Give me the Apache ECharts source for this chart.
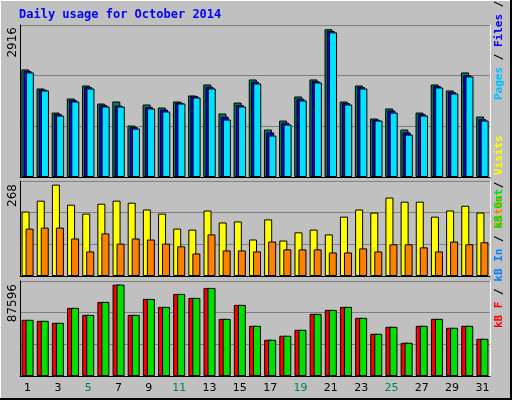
<!DOCTYPE html><html><head><meta charset="utf-8"><script src="https://cdn.jsdelivr.net/npm/echarts@6/dist/echarts.min.js"></script>
<style>body{margin:0;background:#c0c0c0}#c{width:512px;height:400px}</style></head><body><div id="c"></div><script>
var days=[];for(var i=1;i<=31;i++)days.push(String(i));
var weekend=['4','5','11','12','18','19','25','26'];
var hits=[2123,1747,1272,1549,1806,1450,1490,1015,1431,1371,1490,1609,1826,1253,1470,1925,936,1114,1589,1925,2916,1490,1806,1154,1352,936,1272,1826,1708,2064,1193];
var files=[2090,1725,1240,1520,1775,1420,1410,985,1380,1330,1470,1595,1780,1190,1420,1880,880,1070,1545,1890,2880,1460,1775,1130,1310,880,1240,1795,1675,2010,1140];
var pages=[2064,1708,1213,1490,1747,1391,1391,956,1352,1292,1450,1569,1747,1134,1391,1846,818,1035,1510,1866,2855,1431,1747,1114,1272,837,1213,1767,1648,1985,1114];
var visits=[189,221,268,209,183,212,221,215,195,183,139,136,192,157,160,107,166,104,128,136,122,174,195,186,230,218,218,174,192,206,186];
var sites=[139,142,142,110,72,125,95,110,107,95,87,66,122,75,75,72,101,78,78,78,69,69,81,72,93,93,84,72,101,93,99];
var kbF=[53830,52874,50964,65297,58608,71030,87596,58608,73897,66253,78675,74853,84408,54786,68164,48097,34719,38541,44275,59564,63386,66253,55742,40452,47142,31852,48097,54786,46186,48097,35675];
var kbOut=kbF.slice();
var maxLabels=['2916','268','87596'];
var ch=echarts.init(document.getElementById('c'));
var grids=[{left:20,right:22,top:25,height:152},{left:20,right:22,top:181,height:95},{left:20,right:22,top:281,height:95}];
var ymax=[3000,278.6,91065];
var xAxes=[],yAxes=[];
grids.forEach(function(g,i){
 xAxes.push({type:'category',gridIndex:i,data:days,axisTick:{show:false},axisLine:{lineStyle:{color:'#fff'}},
  axisLabel:{show:i==2,margin:7,fontFamily:'DejaVu Sans',fontSize:11,color:function(v){return weekend.indexOf(v)>=0?'#00805c':'#000';}}});
 xAxes.push({type:'category',gridIndex:i,data:days,position:'top',axisTick:{show:false},axisLabel:{show:false},axisLine:{lineStyle:{color:'#000'}}});
 yAxes.push({type:'value',gridIndex:i,min:0,max:ymax[i],interval:ymax[i]/3,axisLabel:{show:false},axisLine:{show:true,lineStyle:{color:'#000'}},axisTick:{show:false},splitLine:{lineStyle:{color:'#808080',width:1}}});
 yAxes.push({type:'value',gridIndex:i,position:'right',min:0,max:ymax[i],axisLabel:{show:false},axisLine:{show:true,lineStyle:{color:'#fff'}},axisTick:{show:false},splitLine:{show:false}});
});
function bar(data,color,xi,yi,w,gap){return {type:'bar',data:data,xAxisIndex:xi,yAxisIndex:yi,barWidth:w,barGap:gap,itemStyle:{color:color,borderColor:'#000',borderWidth:1},animation:false,silent:true};}
var series=[bar(hits,'#00805c',0,0,8,'-72%'),bar(files,'#0000ff',0,0,8,'-72%'),bar(pages,'#00e0ff',0,0,8,'-72%'),
 bar(visits,'#ffff00',2,2,8,'-50%'),bar(sites,'#ff8000',2,2,8,'-50%'),
 bar(kbF,'#ff0000',4,4,8,'-50%'),bar(kbOut,'#00e000',4,4,8,'-50%')];
var lbl=function(t,y){return {type:'text',x:13,y:y,rotation:Math.PI/2,style:{text:t,font:'12px "DejaVu Sans"',fill:'#000',align:'right',verticalAlign:'middle'}};};
function side(y,rich,text){return {type:'text',x:499,y:y,rotation:Math.PI/2,style:{text:text,rich:rich,font:'bold 11px "DejaVu Sans Mono"',align:'left',verticalAlign:'middle'}};}
var rs={a:{fill:'#00c0ff',font:'bold 11px "DejaVu Sans Mono"'},b:{fill:'#0000ff',font:'bold 11px "DejaVu Sans Mono"'},c:{fill:'#00805c',font:'bold 11px "DejaVu Sans Mono"'},k:{fill:'#000',font:'bold 11px "DejaVu Sans Mono"'},
 o:{fill:'#ff8000',font:'bold 11px "DejaVu Sans Mono"'},y:{fill:'#ffff00',font:'bold 11px "DejaVu Sans Mono"'},r:{fill:'#ff0000',font:'bold 11px "DejaVu Sans Mono"'},bl:{fill:'#0080ff',font:'bold 11px "DejaVu Sans Mono"'},g:{fill:'#00e000',font:'bold 11px "DejaVu Sans Mono"'}};
ch.setOption({backgroundColor:'#c0c0c0',grid:grids,xAxis:xAxes,yAxis:yAxes,series:series,
 graphic:[
  {type:'rect',shape:{x:0.5,y:0.5,width:510,height:398},style:{fill:'none',stroke:'#fff',lineWidth:1}},
  {type:'polyline',shape:{points:[[511,0],[511,399],[0,399]]},style:{stroke:'#000',lineWidth:2,fill:'none'}},
  {type:'text',x:19,y:9,style:{text:'Daily usage for October 2014',font:'bold 12px "DejaVu Sans Mono"',fill:'#0000ff'}},
  lbl(maxLabels[0],27),lbl(maxLabels[1],184),lbl(maxLabels[2],284),
  side(100,rs,'{a|Pages}{k| / }{b|Files}{k| / }{c|Hits}'),
  side(228,rs,'{o|Sites}{k| / }{y|Visits}'),
  side(328,rs,'{r|kB F}{k| / }{bl|kB In}{k| / }{g|kB Out}')
 ]});
</script></body></html>
